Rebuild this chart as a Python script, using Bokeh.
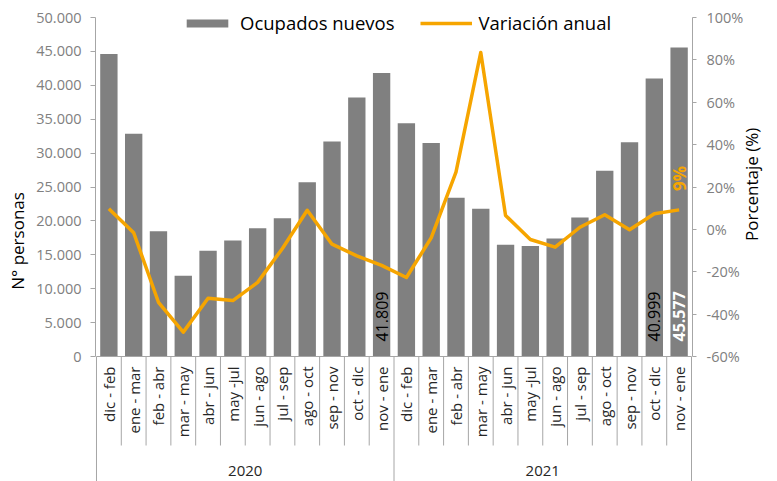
import math
from bokeh.plotting import figure
from bokeh.models import (Range1d, LinearAxis, FixedTicker, CustomJSTickFormatter,
                          ColumnDataSource, Legend, LegendItem)
from bokeh.core.properties import value
from bokeh.embed import file_html
from bokeh.resources import INLINE

# ---------------- data ----------------
YEARS = ["2020", "2021"]
PERIODS = ["dic - feb", "ene - mar", "feb - abr", "mar - may", "abr - jun", "may -jul",
           "jun - ago", "jul - sep", "ago - oct", "sep - nov", "oct - dic", "nov - ene"]
OCUPADOS_2020 = [44600, 32850, 18480, 11900, 15590, 17100, 18900, 20400, 25700, 31700, 38200, 41809]
OCUPADOS_2021 = [34400, 31500, 23400, 21800, 16500, 16300, 17400, 20500, 27400, 31600, 40999, 45577]
VARIACION_2020 = [9.7, -1.6, -34.4, -48.5, -32.5, -33.6, -25.0, -9.0, 9.0, -7.0, -12.5, -17.0]
VARIACION_2021 = [-22.7, -4.0, 27.0, 83.5, 6.6, -4.8, -8.4, 1.0, 6.9, -0.2, 7.4, 9.2]
LEFT_TICKS = [0, 5000, 10000, 15000, 20000, 25000, 30000, 35000, 40000, 45000, 50000]
RIGHT_TICKS = [-60, -40, -20, 0, 20, 40, 60, 80, 100]
BAR_LABEL_IDX = [11, 22, 23]
LINE_LABEL_IDX = [23]

# ---------------- layout constants ----------------
FONT = "Open Sans"
BAR_COLOR = "#808080"
ORANGE = "#F6A500"
AXIS_COLOR = "#a6a6a6"
TICK_COLOR = "#808080"
W, H = 777, 481
FRAME_L = 95
CAT_PX = 25
N = len(PERIODS) * len(YEARS)
FRAME_W = CAT_PX * N + 2
FRAME_H = H
TOP_Y = 17              # px where the top tick sits
AXIS_Y = 356            # px where value 0 sits
SEP_END = 445
CAT_LABEL_Y = 366
YEAR_Y = 470
LEGEND_BOTTOM = 35
PAD = 1.0 / CAT_PX

ocupados = OCUPADOS_2020 + OCUPADOS_2021
variacion = VARIACION_2020 + VARIACION_2021
xs = list(range(N))
cats = PERIODS * len(YEARS)

l_top, l_bot = LEFT_TICKS[-1], LEFT_TICKS[0]
r_top, r_bot = RIGHT_TICKS[-1], RIGHT_TICKS[0]
l_pp = (l_top - l_bot) / (AXIS_Y - TOP_Y)
r_pp = (r_top - r_bot) / (AXIS_Y - TOP_Y)
l_rng = (l_bot - (FRAME_H - AXIS_Y) * l_pp, l_top + TOP_Y * l_pp)
r_rng = (r_bot - (FRAME_H - AXIS_Y) * r_pp, r_top + TOP_Y * r_pp)

p = figure(width=W, height=H, output_backend="svg", toolbar_location=None,
           x_range=Range1d(-0.5 - PAD, N - 0.5 + PAD),
           y_range=Range1d(*l_rng),
           min_border_left=FRAME_L, min_border_right=W - FRAME_L - FRAME_W,
           min_border_top=0, min_border_bottom=0,
           x_axis_location=None, y_axis_location="left")
p.extra_y_ranges = {"pct": Range1d(*r_rng), "px": Range1d(FRAME_H, 0)}
p.grid.visible = False
p.outline_line_color = None


def style_axis(ax, tick_out, standoff, label_standoff):
    ax.axis_line_color = AXIS_COLOR
    ax.major_tick_line_color = AXIS_COLOR
    ax.major_tick_out = tick_out
    ax.major_tick_in = 0
    ax.minor_tick_line_color = None
    ax.major_label_text_font = FONT
    ax.major_label_text_font_size = "14.5px"
    ax.major_label_text_color = TICK_COLOR
    ax.major_label_standoff = standoff
    ax.axis_label_text_font = FONT
    ax.axis_label_text_font_size = "17px"
    ax.axis_label_text_font_style = "normal"
    ax.axis_label_text_color = "#000000"
    ax.axis_label_standoff = label_standoff


yl = p.yaxis[0]
yl.bounds = (l_bot, l_top)
yl.ticker = FixedTicker(ticks=LEFT_TICKS)
yl.formatter = CustomJSTickFormatter(
    code="return tick.toFixed(0).replace(/\\B(?=(\\d{3})+(?!\\d))/g, '.');")
yl.axis_label = "N° personas"
style_axis(yl, 5, 9, 4)

yr = LinearAxis(y_range_name="pct", bounds=(r_bot, r_top),
                ticker=FixedTicker(ticks=RIGHT_TICKS),
                formatter=CustomJSTickFormatter(code="return tick.toFixed(0) + '%';"),
                axis_label="Porcentaje (%)")
style_axis(yr, 4, 10, 5)
try:
    yr.axis_label_orientation = math.pi / 2
except Exception:
    pass
p.add_layout(yr, "right")

src = ColumnDataSource(dict(x=xs, top=ocupados, pct=variacion))
r_bar = p.vbar(x="x", top="top", width=0.7, source=src,
               fill_color=BAR_COLOR, line_color=None)
r_line = p.line(x="x", y="pct", source=src, y_range_name="pct",
                line_color=ORANGE, line_width=3.5, line_join="round")

# category axis line + separators
p.segment(x0=[-0.5], x1=[N - 0.5], y0=[AXIS_Y], y1=[AXIS_Y], y_range_name="px",
          line_color=AXIS_COLOR, line_width=1)
bounds_x = [i - 0.5 for i in range(N + 1)]
ends = [FRAME_H if i % len(PERIODS) == 0 else SEP_END for i in range(N + 1)]
p.segment(x0=bounds_x, x1=bounds_x, y0=[AXIS_Y] * (N + 1), y1=ends, y_range_name="px",
          line_color=AXIS_COLOR, line_width=1)

p.text(x=xs, y=[CAT_LABEL_Y] * N, text=cats, angle=math.pi / 2, y_range_name="px",
       text_align="right", text_baseline="middle", text_font=value(FONT),
       text_font_size="15px", text_color="#262626")

year_x = [(g * len(PERIODS) + (g + 1) * len(PERIODS) - 1) / 2 for g in range(len(YEARS))]
p.text(x=year_x, y=[YEAR_Y] * len(YEARS), text=YEARS, y_range_name="px",
       text_align="center", text_baseline="middle", text_font=value(FONT),
       text_font_size="15px", text_color="#262626")


def fmt_thousands(v):
    return f"{v:,.0f}".replace(",", ".")


lab_colors = ["#000000", "#000000", "#ffffff"]
lab_styles = ["normal", "normal", "bold"]
for i, c, s in zip(BAR_LABEL_IDX, lab_colors, lab_styles):
    p.text(x=[i], y=[0], text=[fmt_thousands(ocupados[i])], angle=math.pi / 2,
           y_offset=-15, text_align="left", text_baseline="middle",
           text_font=value(FONT), text_font_size="16px", text_color=c,
           text_font_style=s)

for i in LINE_LABEL_IDX:
    p.text(x=[i], y=[variacion[i]], text=[f"{variacion[i]:.0f}%"], angle=math.pi / 2,
           y_range_name="pct", y_offset=-19, text_align="left", text_baseline="middle",
           text_font=value(FONT), text_font_size="17px", text_color=ORANGE,
           text_font_style="bold")

legend = Legend(items=[LegendItem(label="Ocupados nuevos", renderers=[r_bar]),
                       LegendItem(label="Variación anual", renderers=[r_line])],
                orientation="horizontal", location=(86, FRAME_H - LEGEND_BOTTOM),
                glyph_width=52, glyph_height=10, label_standoff=7, spacing=25,
                padding=0, margin=0, border_line_color=None,
                background_fill_alpha=0, label_text_font=FONT,
                label_text_font_size="18.5px", label_text_color="#000000")
p.add_layout(legend)

open("out.html", "w").write(file_html(p, INLINE))
